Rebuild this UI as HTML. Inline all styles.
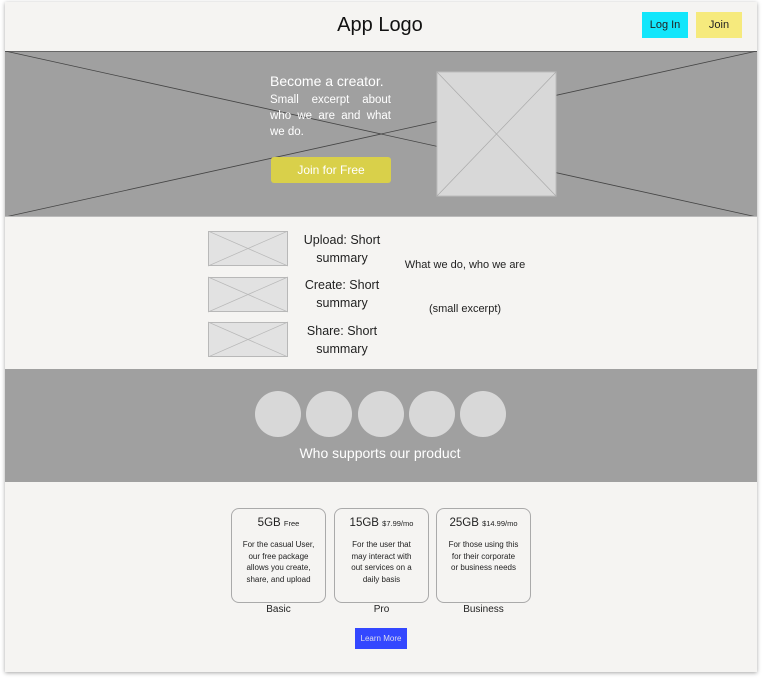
<!DOCTYPE html>
<html><head><meta charset="utf-8"><style>
*{margin:0;padding:0;box-sizing:border-box}
body{width:762px;height:682px;background:#fff;position:relative;overflow:hidden;font-family:"Liberation Sans",sans-serif;color:#222}
.a{position:absolute}
.c{text-align:center}
</style></head><body>
<div class="a" style="left:5px;top:2px;width:752px;height:670px;background:#f5f4f2;box-shadow:0 1px 4px rgba(0,0,0,.35)"></div>
<div class="a c" style="left:280px;top:14px;width:200px;font-size:20px;color:#111">App Logo</div>
<div class="a c" style="left:642px;top:12px;width:46px;height:26px;background:#12e6fb;font-size:11px;line-height:26px">Log In</div>
<div class="a c" style="left:696px;top:12px;width:46px;height:26px;background:#f6ea7d;font-size:11px;line-height:26px">Join</div>
<svg class="a" style="left:5px;top:51px" width="752" height="166">
<rect width="752" height="166" fill="#a0a0a0"/>
<line x1="0" y1="0.5" x2="752" y2="0.5" stroke="#666"/>
<line x1="0" y1="0" x2="752" y2="166" stroke="#444" stroke-width="0.8"/>
<line x1="0" y1="166" x2="752" y2="0" stroke="#444" stroke-width="0.8"/>
<line x1="0" y1="165.5" x2="752" y2="165.5" stroke="#bbb"/>
<rect x="432" y="21" width="119" height="124" fill="#d8d8d8" stroke="#bbb"/>
<line x1="432" y1="21" x2="551" y2="145" stroke="#aaa" stroke-width="0.7"/>
<line x1="432" y1="145" x2="551" y2="21" stroke="#aaa" stroke-width="0.7"/>
</svg>
<div class="a" style="left:270px;top:73px;font-size:14px;color:#fff">Become a creator.</div>
<div class="a" style="left:270px;top:92px;width:121px;font-size:11.5px;line-height:16px;color:#fff;text-align:justify;text-align-last:left">Small excerpt about who we are and what we do.</div>
<div class="a c" style="left:271px;top:157px;width:120px;height:26px;background:#d9d04a;border-radius:3px;color:#fff;font-size:12px;line-height:26px">Join for Free</div>
<svg class="a" style="left:208px;top:231px" width="80" height="126">
<g fill="#e2e2e2" stroke="#b8b8b8" stroke-width="1">
<rect x="0.5" y="0.5" width="79" height="34"/><rect x="0.5" y="46.5" width="79" height="34"/><rect x="0.5" y="91.5" width="79" height="34"/>
<path d="M0 0L80 35M0 35L80 0M0 46L80 81M0 81L80 46M0 91L80 126M0 126L80 91" fill="none" stroke-width=".7"/>
</g></svg>
<div class="a c" style="left:292px;top:231px;width:100px;font-size:12.5px;line-height:18px">Upload: Short<br>summary</div>
<div class="a c" style="left:292px;top:276px;width:100px;font-size:12.5px;line-height:18px">Create: Short<br>summary</div>
<div class="a c" style="left:292px;top:322px;width:100px;font-size:12.5px;line-height:18px">Share: Short<br>summary</div>
<div class="a c" style="left:385px;top:259px;width:160px;font-size:11px">What we do, who we are</div>
<div class="a c" style="left:385px;top:303px;width:160px;font-size:11px">(small excerpt)</div>
<div class="a" style="left:5px;top:369px;width:752px;height:113px;background:#a0a0a0"></div>
<svg class="a" style="left:250px;top:390px" width="262" height="50"><g fill="#d8d8d8">
<circle cx="28" cy="24" r="23"/><circle cx="79" cy="24" r="23"/><circle cx="131" cy="24" r="23"/><circle cx="182" cy="24" r="23"/><circle cx="233" cy="24" r="23"/></g></svg>
<div class="a c" style="left:230px;top:445px;width:300px;font-size:14px;color:#fff">Who supports our product</div>
<div class="a" style="left:231px;top:508px;width:95px;height:95px;border:1px solid #aaa;border-radius:8px"></div>
<div class="a" style="left:334px;top:508px;width:95px;height:95px;border:1px solid #aaa;border-radius:8px"></div>
<div class="a" style="left:436px;top:508px;width:95px;height:95px;border:1px solid #aaa;border-radius:8px"></div>
<div class="a c" style="left:231px;top:517px;width:95px;font-size:11.5px">5GB <span style="font-size:7.5px">Free</span></div>
<div class="a c" style="left:334px;top:517px;width:95px;font-size:11.5px">15GB <span style="font-size:7.5px">$7.99/mo</span></div>
<div class="a c" style="left:436px;top:517px;width:95px;font-size:11.5px">25GB <span style="font-size:7.5px">$14.99/mo</span></div>
<div class="a c" style="left:236px;top:539px;width:85px;font-size:8px;line-height:11.5px">For the casual User,<br>our free package<br>allows you create,<br>share, and upload</div>
<div class="a c" style="left:339px;top:539px;width:85px;font-size:8px;line-height:11.5px">For the user that<br>may interact with<br>out services on a<br>daily basis</div>
<div class="a c" style="left:441px;top:539px;width:85px;font-size:8px;line-height:11.5px">For those using this<br>for their corporate<br>or business needs</div>
<div class="a c" style="left:231px;top:604px;width:95px;font-size:10px">Basic</div>
<div class="a c" style="left:334px;top:604px;width:95px;font-size:10px">Pro</div>
<div class="a c" style="left:436px;top:604px;width:95px;font-size:10px">Business</div>
<div class="a c" style="left:355px;top:628px;width:52px;height:21px;background:#3347ff;color:#dde;font-size:8px;line-height:21px">Learn More</div>
</body></html>
